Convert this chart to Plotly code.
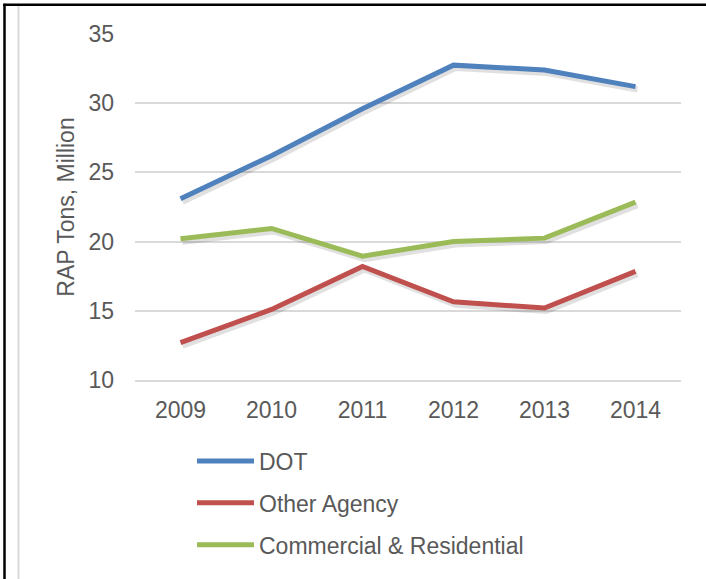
import plotly.graph_objects as go

years = ["2009", "2010", "2011", "2012", "2013", "2014"]
dot = [23.1, 26.2, 29.6, 32.75, 32.4, 31.2]
other_agency = [12.7, 15.1, 18.2, 15.65, 15.2, 17.85]
commercial_res = [20.2, 20.95, 18.95, 20.0, 20.25, 22.85]
series_names = ["DOT", "Other Agency", "Commercial & Residential"]
colors = ["#4F81BD", "#C0504D", "#9BBB59"]
y_ticks = [10, 15, 20, 25, 30, 35]

FONT = "Liberation Sans, Arial, sans-serif"
TXT = "#595959"
GRID = "#d9d9d9"
FS = 23

W, H = 706, 579
L, R, T, B = 135, 25, 34, 196
pw, ph = W - L - R, H - T - B
X_RANGE = [-0.5, 5.5]
Y_RANGE = [10, 35]


def px_x(p):
    return (p - L) / pw


def px_y(p):
    return (H - B - p) / ph


# shadow offset in pixels (right, down) expressed as axis range shifts
sdx, sdy = 2.0, 3.0
x_per_px = (X_RANGE[1] - X_RANGE[0]) / pw
y_per_px = (Y_RANGE[1] - Y_RANGE[0]) / ph
X_SHADOW = [X_RANGE[0] - sdx * x_per_px, X_RANGE[1] - sdx * x_per_px]
Y_SHADOW = [Y_RANGE[0] + sdy * y_per_px, Y_RANGE[1] + sdy * y_per_px]

all_series = [dot, other_agency, commercial_res]

fig = go.Figure()
# invisible carrier trace for the visible axes
fig.add_trace(go.Scatter(x=years, y=dot, mode="lines", line=dict(width=0),
                         showlegend=False, hoverinfo="skip", xaxis="x", yaxis="y"))
# soft shadows
for vals in all_series:
    fig.add_trace(go.Scatter(
        x=years, y=vals, mode="lines", showlegend=False, hoverinfo="skip",
        line=dict(color="rgba(0,0,0,0.12)", width=6),
        xaxis="x2", yaxis="y2",
    ))
# main lines
for i, (name, vals) in enumerate(zip(series_names, all_series)):
    fig.add_trace(go.Scatter(
        x=years, y=vals, name=name, mode="lines",
        line=dict(color=colors[i], width=5),
        legendgroup=name, xaxis="x3", yaxis="y3",
    ))

hidden = dict(visible=False, showgrid=False, zeroline=False, showticklabels=False)

fig.update_layout(
    width=W, height=H,
    margin=dict(l=L, r=R, t=T, b=B, pad=0),
    paper_bgcolor="white", plot_bgcolor="white",
    font=dict(family=FONT, size=FS, color=TXT),
    showlegend=True,
    legend=dict(
        x=px_x(192), y=px_y(443), xanchor="left", yanchor="top",
        orientation="v", traceorder="grouped", tracegroupgap=9,
        itemwidth=57, font=dict(family=FONT, size=FS, color=TXT),
        bgcolor="rgba(0,0,0,0)",
    ),
    xaxis=dict(
        type="category", range=X_RANGE,
        showgrid=False, showline=True, linecolor=GRID, linewidth=1.5,
        ticks="", ticklabelstandoff=9, zeroline=False,
        tickfont=dict(family=FONT, size=FS, color=TXT),
    ),
    yaxis=dict(
        range=Y_RANGE, tickvals=y_ticks, showgrid=True, gridcolor=GRID, gridwidth=1.5,
        zeroline=False, showline=False, ticks="", ticklabelstandoff=20,
        tickfont=dict(family=FONT, size=FS, color=TXT),
        title=dict(text="RAP Tons, Million", standoff=7,
                   font=dict(family=FONT, size=FS, color=TXT)),
    ),
    xaxis2=dict(type="category", range=X_SHADOW, overlaying="x", anchor="y2", **hidden),
    yaxis2=dict(range=Y_SHADOW, overlaying="y", anchor="x2", **hidden),
    xaxis3=dict(type="category", range=X_RANGE, overlaying="x", anchor="y3", **hidden),
    yaxis3=dict(range=Y_RANGE, overlaying="y", anchor="x3", **hidden),
    shapes=[
        dict(type="line", xref="paper", yref="paper",
             x0=px_x(4.5), x1=px_x(4.5), y0=px_y(585), y1=px_y(3.5),
             line=dict(color="black", width=2.5)),
        dict(type="line", xref="paper", yref="paper",
             x0=px_x(3.3), x1=px_x(712), y0=px_y(4.5), y1=px_y(4.5),
             line=dict(color="black", width=2.5)),
        dict(type="line", xref="paper", yref="paper",
             x0=px_x(18.5), x1=px_x(18.5), y0=px_y(585), y1=px_y(6),
             line=dict(color=GRID, width=2)),
    ],
)

fig.write_html(
    "out.html",
    config={"displayModeBar": False},
    post_script="document.body.style.margin='0';document.body.style.overflow='hidden';",
)
